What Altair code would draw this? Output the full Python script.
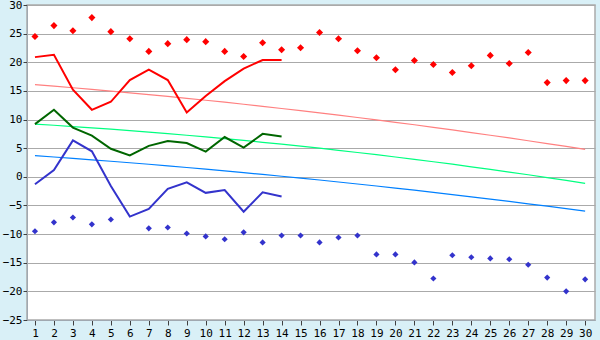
import altair as alt
import pandas as pd

days = list(range(1, 31))

record_max = [24.5, 26.4, 25.5, 27.8, 25.35, 24.1, 21.9, 23.25, 23.95, 23.6,
              21.9, 21.0, 23.4, 22.2, 22.55, 25.2, 24.1, 22.0, 20.8, 18.7,
              20.3, 19.6, 18.2, 19.4, 21.2, 19.8, 21.7, 16.45, 16.8, 16.8]
record_min = [-9.5, -7.95, -7.1, -8.3, -7.45, None, -9.0, -8.85, -9.9, -10.4,
              -10.9, -9.7, -11.45, -10.25, -10.25, -11.45, -10.6, -10.25, -13.55, -13.55,
              -14.95, -17.75, -13.7, -14.05, -14.25, -14.4, -15.35, -17.6, -20.0, -17.9]
day_max = [20.9, 21.3, 15.2, 11.7, 13.1, 16.9, 18.7, 16.9, 11.25, 14.1,
           16.7, 18.9, 20.4, 20.4] + [None] * 16
day_mean = [9.2, 11.7, 8.6, 7.2, 4.9, 3.75, 5.4, 6.25, 5.9, 4.4,
            6.95, 5.1, 7.5, 7.05] + [None] * 16
day_min = [-1.3, 1.2, 6.35, 4.45, -1.6, -6.95, -5.6, -2.1, -0.95, -2.8,
           -2.3, -6.1, -2.7, -3.45] + [None] * 16
normal_max = [16.10, 15.83, 15.55, 15.27, 14.97, 14.67, 14.36, 14.04, 13.71, 13.37,
              13.03, 12.67, 12.31, 11.93, 11.55, 11.16, 10.76, 10.36, 9.94, 9.52,
              9.09, 8.64, 8.19, 7.73, 7.26, 6.79, 6.30, 5.81, 5.31, 4.80]
normal_mean = [9.20, 9.00, 8.78, 8.56, 8.32, 8.07, 7.81, 7.54, 7.26, 6.97,
               6.67, 6.35, 6.03, 5.70, 5.35, 5.00, 4.63, 4.25, 3.86, 3.46,
               3.05, 2.63, 2.20, 1.75, 1.30, 0.83, 0.36, -0.13, -0.63, -1.14]
normal_min = [3.69, 3.46, 3.22, 2.97, 2.72, 2.46, 2.19, 1.91, 1.63, 1.33,
              1.04, 0.73, 0.42, 0.10, -0.22, -0.56, -0.90, -1.25, -1.60, -1.96,
              -2.33, -2.71, -3.10, -3.49, -3.89, -4.30, -4.71, -5.13, -5.56, -6.00]

y_ticks = list(range(-25, 31, 5))

df = pd.DataFrame({
    "day": days,
    "record_max": record_max,
    "record_min": record_min,
    "day_max": day_max,
    "day_mean": day_mean,
    "day_min": day_min,
    "normal_max": normal_max,
    "normal_mean": normal_mean,
    "normal_min": normal_min,
})

FONT = "DejaVu Sans Mono"

x_enc = alt.X("day:Q",
              scale=alt.Scale(domain=[0.58, 30.52], nice=False, zero=False),
              axis=alt.Axis(values=days, title=None, grid=False, tickSize=5,
                            labelPadding=2, domainColor="#a0a8b0", tickColor="#404040",
                            labelFont=FONT, labelFontSize=11, labelColor="#000000",
                            labelFlush=False, labelOverlap=False))

y_axis = alt.Axis(values=y_ticks, title=None, grid=True, gridColor="#aaaaaa",
                  tickSize=4, labelPadding=1, domainColor="#a0a8b0", tickColor="#404040",
                  labelFont=FONT, labelFontSize=11, labelColor="#000000",
                  labelFlush=False, labelOverlap=False)
y_scale = alt.Scale(domain=[-25, 30], nice=False, zero=False)

def y_enc(col):
    return alt.Y(f"{col}:Q", scale=y_scale, axis=y_axis, title=None)

base = alt.Chart(df)

layers = []
for col, color, w in [("normal_max", "#ff8080", 1.2),
                      ("normal_mean", "#00ff80", 1.2),
                      ("normal_min", "#0080ff", 1.2)]:
    layers.append(base.mark_line(color=color, strokeWidth=w).encode(
        x=x_enc, y=y_enc(col)))

for col, color in [("day_max", "#ff0000"), ("day_mean", "#006600"), ("day_min", "#3333cc")]:
    layers.append(base.mark_line(color=color, strokeWidth=2).encode(
        x=x_enc, y=y_enc(col)))

layers.append(base.mark_point(shape="diamond", filled=True, color="#ff0000", size=50, opacity=1).encode(
    x=x_enc, y=y_enc("record_max")))
layers.append(base.mark_point(shape="diamond", filled=True, color="#3333cc", size=38, opacity=1).encode(
    x=x_enc, y=y_enc("record_min")))

chart = alt.layer(*layers).properties(
    width=568, height=315,
    background="#d9f0f7",
    padding={"left": 27, "top": 5, "right": 5, "bottom": 20},
    autosize=alt.AutoSizeParams(type="none"),
).configure_view(fill="#ffffff", stroke="#aaaaaa", strokeWidth=1.5)

chart.save("out.html", embed_options={"renderer": "svg", "actions": False})
